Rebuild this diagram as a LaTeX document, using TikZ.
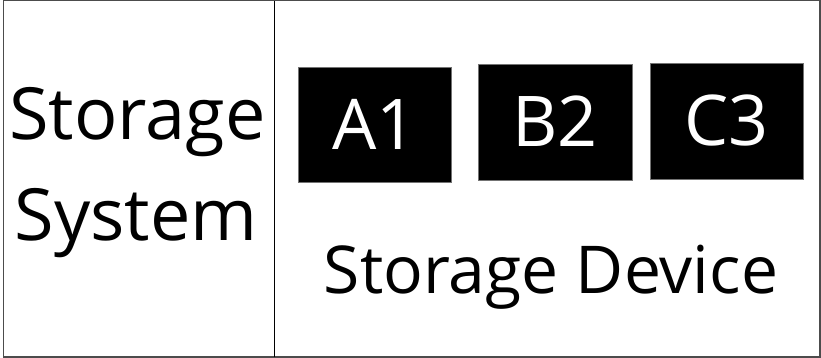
\documentclass[tikz,border=0pt]{standalone}
\usepackage{fontspec}
\setmainfont{Open Sans}
\begin{document}
\begin{tikzpicture}[x=1pt,y=-1pt,
  frame/.style={draw=black!70,line width=1.2pt},
  divider/.style={draw=black,line width=1.6pt},
  cell/.style={draw=black!55,line width=0.8pt,fill=black,text=white,inner sep=0pt,
    minimum width=153pt,minimum height=115pt,
    font=\fontsize{70}{84}\selectfont,text height=50pt,text depth=0pt},
  bigtext/.style={inner sep=0pt,anchor=base,font=\fontsize{72}{84}\selectfont},
  devtext/.style={inner sep=0pt,anchor=base,font=\fontsize{66}{78}\selectfont}]
\useasboundingbox (0,0) rectangle (821,358);
\fill[white] (0,0) rectangle (821,358);
\draw[frame] (3.5,0.8) rectangle (820,357);
\coordinate (dtop) at (274.5,0.8);
\coordinate (dbot) at (274.5,357);
\draw[divider] (dtop) -- (dbot);
\node[bigtext] (storage) at (137.5,140) {Storage};
\node[bigtext] (system) at (136,240) {System};
\node[cell] (a1) at (374.5,124.5) {A1};
\node[cell,minimum width=154pt,minimum height=116pt] (b2) at (555,122) {B2};
\node[cell,minimum height=116pt] (c3) at (726.5,121) {C3};
\node[devtext] (device) at (551,293) {Storage Device};
\end{tikzpicture}
\end{document}
